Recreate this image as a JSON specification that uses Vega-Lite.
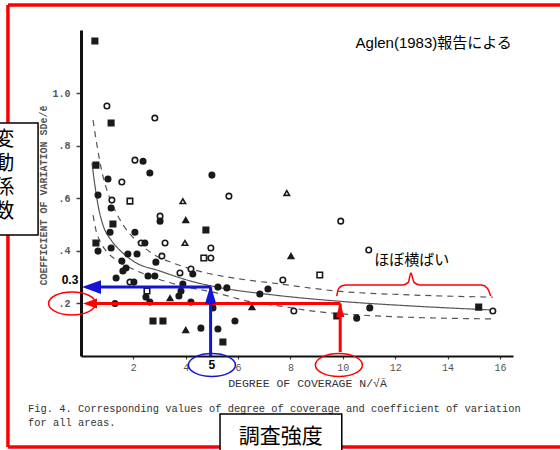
{
  "$schema": "https://vega.github.io/schema/vega-lite/v6.json",
  "width": 432,
  "height": 326,
  "autosize": {"type": "none"},
  "padding": {"left": 81, "top": 30, "right": 47, "bottom": 94},
  "background": "white",
  "config": {"view": {"stroke": null}, "font": "Liberation Sans"},
  "resolve": {"scale": {"shape": "independent", "size": "independent", "fill": "independent", "strokeDash": "independent"}},
  "encoding": {
    "x": {"field": "x", "type": "quantitative",
      "scale": {"domain": [0, 16.5], "nice": false, "zero": false},
      "axis": {"title": "DEGREE OF COVERAGE  N/√Ā", "values": [2, 4, 6, 8, 10, 12, 14, 16], "grid": false,
        "domainColor": "#111", "domainWidth": 2, "tickColor": "#444", "tickSize": 3, "tickWidth": 1.2,
        "labelFont": "Liberation Mono", "labelFontSize": 10, "labelColor": "#555", "labelPadding": 3,
        "titleFont": "Liberation Mono", "titleFontSize": 11.5, "titleFontWeight": "normal", "titleColor": "#333",
        "titleX": 226, "titleY": 27, "titleBaseline": "middle", "titleAlign": "center"}},
    "y": {"field": "y", "type": "quantitative",
      "scale": {"domain": [0, 1.24], "nice": false, "zero": false},
      "axis": {"title": "COEFFICIENT OF VARIATION  SDe/ē", "values": [0.2, 0.4, 0.6, 0.8, 1.0], "grid": false,
        "labelExpr": "datum.value >= 1 ? '1.0' : slice(format(datum.value, '.1f'), 1)",
        "domainColor": "#111", "domainWidth": 3, "tickColor": "#444", "tickSize": 5, "tickWidth": 1.5,
        "labelFont": "Liberation Mono", "labelFontSize": 10, "labelFontWeight": "bold", "labelColor": "#555", "labelPadding": 6,
        "titleFont": "Liberation Mono", "titleFontSize": 10, "titleFontWeight": "bold", "titleColor": "#555",
        "titleX": -38, "titleY": 165, "titleAngle": -90, "titleAlign": "center", "titleBaseline": "middle"}}
  },
  "datasets": {
    "pts": [
      {"x": 0.53, "y": 1.198, "m": "fs"}, {"x": 0.99, "y": 0.951, "m": "oc"}, {"x": 1.15, "y": 0.886, "m": "fs"},
      {"x": 2.82, "y": 0.905, "m": "oc"}, {"x": 2.06, "y": 0.745, "m": "oc"}, {"x": 2.37, "y": 0.741, "m": "fc"},
      {"x": 2.63, "y": 0.696, "m": "fc"}, {"x": 5.0, "y": 0.688, "m": "fc"}, {"x": 0.57, "y": 0.726, "m": "fs"},
      {"x": 1.03, "y": 0.673, "m": "fc"}, {"x": 1.56, "y": 0.662, "m": "oc"}, {"x": 5.65, "y": 0.608, "m": "oc"},
      {"x": 0.65, "y": 0.612, "m": "fc"}, {"x": 1.18, "y": 0.593, "m": "oc"}, {"x": 1.87, "y": 0.589, "m": "os"},
      {"x": 3.89, "y": 0.589, "m": "ot"}, {"x": 1.15, "y": 0.563, "m": "fc"}, {"x": 4.0, "y": 0.517, "m": "ft"},
      {"x": 3.02, "y": 0.532, "m": "oc"}, {"x": 3.02, "y": 0.513, "m": "fc"}, {"x": 1.22, "y": 0.502, "m": "fs"},
      {"x": 7.86, "y": 0.62, "m": "ot"}, {"x": 9.92, "y": 0.513, "m": "oc"}, {"x": 10.99, "y": 0.403, "m": "oc"},
      {"x": 8.02, "y": 0.38, "m": "ft"}, {"x": 9.12, "y": 0.308, "m": "os"}, {"x": 7.71, "y": 0.289, "m": "oc"},
      {"x": 7.14, "y": 0.255, "m": "fc"}, {"x": 6.83, "y": 0.236, "m": "fc"}, {"x": 8.13, "y": 0.171, "m": "oc"},
      {"x": 9.77, "y": 0.152, "m": "fs"}, {"x": 10.53, "y": 0.144, "m": "fc"}, {"x": 11.03, "y": 0.183, "m": "fc"},
      {"x": 15.19, "y": 0.186, "m": "fs"}, {"x": 15.73, "y": 0.171, "m": "oc"}, {"x": 4.77, "y": 0.479, "m": "fs"},
      {"x": 3.21, "y": 0.43, "m": "oc"}, {"x": 3.97, "y": 0.43, "m": "ot"}, {"x": 4.96, "y": 0.411, "m": "oc"},
      {"x": 1.11, "y": 0.471, "m": "fc"}, {"x": 2.06, "y": 0.471, "m": "fc"}, {"x": 0.57, "y": 0.43, "m": "fs"},
      {"x": 1.15, "y": 0.411, "m": "fc"}, {"x": 2.3, "y": 0.43, "m": "oc"}, {"x": 2.44, "y": 0.43, "m": "fc"},
      {"x": 0.65, "y": 0.399, "m": "fc"}, {"x": 1.56, "y": 0.361, "m": "fc"}, {"x": 1.79, "y": 0.388, "m": "fc"},
      {"x": 2.14, "y": 0.388, "m": "fc"}, {"x": 2.86, "y": 0.357, "m": "fc"}, {"x": 3.09, "y": 0.38, "m": "oc"},
      {"x": 1.72, "y": 0.335, "m": "fc"}, {"x": 1.6, "y": 0.323, "m": "fc"}, {"x": 2.56, "y": 0.304, "m": "fc"},
      {"x": 2.82, "y": 0.304, "m": "fc"}, {"x": 3.78, "y": 0.316, "m": "oc"}, {"x": 4.2, "y": 0.331, "m": "oc"},
      {"x": 4.27, "y": 0.312, "m": "fc"}, {"x": 4.69, "y": 0.373, "m": "os"}, {"x": 4.96, "y": 0.373, "m": "oc"},
      {"x": 1.34, "y": 0.297, "m": "fc"}, {"x": 1.87, "y": 0.281, "m": "oc"}, {"x": 2.02, "y": 0.281, "m": "fc"},
      {"x": 2.52, "y": 0.247, "m": "os"}, {"x": 2.48, "y": 0.224, "m": "fc"}, {"x": 2.63, "y": 0.205, "m": "fc"},
      {"x": 3.4, "y": 0.22, "m": "ft"}, {"x": 3.89, "y": 0.274, "m": "fc"}, {"x": 3.82, "y": 0.247, "m": "fc"},
      {"x": 3.74, "y": 0.228, "m": "fc"}, {"x": 4.2, "y": 0.205, "m": "fc"}, {"x": 1.3, "y": 0.2, "m": "fc"},
      {"x": 5.23, "y": 0.262, "m": "fc"}, {"x": 5.57, "y": 0.259, "m": "fc"}, {"x": 5.04, "y": 0.183, "m": "fc"},
      {"x": 5.88, "y": 0.133, "m": "fc"}, {"x": 2.75, "y": 0.133, "m": "fs"}, {"x": 3.13, "y": 0.133, "m": "fs"},
      {"x": 4.0, "y": 0.099, "m": "ft"}, {"x": 4.58, "y": 0.106, "m": "fc"}, {"x": 5.23, "y": 0.103, "m": "fc"},
      {"x": 5.42, "y": 0.053, "m": "fs"}, {"x": 6.53, "y": 0.186, "m": "ft"}
    ],
    "curves": [
      {"c": "upper", "x": 0.46, "y": 0.897}, {"c": "upper", "x": 0.61, "y": 0.802}, {"c": "upper", "x": 0.76, "y": 0.719},
      {"c": "upper", "x": 0.99, "y": 0.631}, {"c": "upper", "x": 1.26, "y": 0.563}, {"c": "upper", "x": 1.64, "y": 0.494},
      {"c": "upper", "x": 2.18, "y": 0.433}, {"c": "upper", "x": 2.75, "y": 0.388}, {"c": "upper", "x": 3.51, "y": 0.354},
      {"c": "upper", "x": 4.66, "y": 0.319}, {"c": "upper", "x": 5.8, "y": 0.297}, {"c": "upper", "x": 7.6, "y": 0.274},
      {"c": "upper", "x": 9.77, "y": 0.247}, {"c": "upper", "x": 12.67, "y": 0.232}, {"c": "upper", "x": 15.73, "y": 0.224},
      {"c": "mid", "x": 0.42, "y": 0.734}, {"c": "mid", "x": 0.53, "y": 0.65}, {"c": "mid", "x": 0.65, "y": 0.574},
      {"c": "mid", "x": 0.84, "y": 0.498}, {"c": "mid", "x": 1.15, "y": 0.441}, {"c": "mid", "x": 1.56, "y": 0.395},
      {"c": "mid", "x": 2.06, "y": 0.357}, {"c": "mid", "x": 3.02, "y": 0.323}, {"c": "mid", "x": 4.05, "y": 0.289},
      {"c": "mid", "x": 5.19, "y": 0.262}, {"c": "mid", "x": 7.02, "y": 0.236}, {"c": "mid", "x": 9.77, "y": 0.209},
      {"c": "mid", "x": 12.67, "y": 0.19}, {"c": "mid", "x": 15.73, "y": 0.175},
      {"c": "lower", "x": 0.46, "y": 0.536}, {"c": "lower", "x": 0.57, "y": 0.479}, {"c": "lower", "x": 0.76, "y": 0.43},
      {"c": "lower", "x": 1.03, "y": 0.392}, {"c": "lower", "x": 1.49, "y": 0.357}, {"c": "lower", "x": 2.06, "y": 0.327},
      {"c": "lower", "x": 2.63, "y": 0.304}, {"c": "lower", "x": 4.05, "y": 0.262}, {"c": "lower", "x": 5.04, "y": 0.243},
      {"c": "lower", "x": 6.45, "y": 0.207}, {"c": "lower", "x": 7.6, "y": 0.19}, {"c": "lower", "x": 8.85, "y": 0.171},
      {"c": "lower", "x": 11.41, "y": 0.152}, {"c": "lower", "x": 15.73, "y": 0.141}
    ],
    "frame": [
      {"x": -2.79, "x2": 18.3, "y": 1.335, "y2": 1.335},
      {"x": -2.79, "x2": -2.79, "y": 1.335, "y2": -0.346},
      {"x": -2.79, "x2": 18.3, "y": -0.346, "y2": -0.346}
    ],
    "rules": [
      {"col": "red", "x": 0.45, "x2": 9.9, "y": 0.2, "y2": 0.2},
      {"col": "red", "x": 9.9, "x2": 9.9, "y": 0.015, "y2": 0.2},
      {"col": "blue", "x": 0.45, "x2": 4.95, "y": 0.262, "y2": 0.262},
      {"col": "blue", "x": 4.95, "x2": 4.95, "y": 0.0, "y2": 0.262}
    ],
    "heads": [
      {"col": "red", "dir": "left", "x": 0.344, "y": 0.2},
      {"col": "red", "dir": "up", "x": 9.9, "y": 0.175},
      {"col": "blue", "dir": "left", "x": 0.4, "y": 0.262},
      {"col": "blue", "dir": "up", "x": 4.95, "y": 0.234}
    ],
    "ovals": [
      {"col": "red", "x": -0.34, "y": 0.2},
      {"col": "red", "x": 9.85, "y": -0.034},
      {"col": "blue", "x": 5.0, "y": -0.034}
    ],
    "brace": [
      {"i": 0, "x": 9.77, "y": 0.228}, {"i": 1, "x": 9.82, "y": 0.252}, {"i": 2, "x": 9.95, "y": 0.266},
      {"i": 3, "x": 10.15, "y": 0.27}, {"i": 4, "x": 12.29, "y": 0.27}, {"i": 5, "x": 12.5, "y": 0.28},
      {"i": 6, "x": 12.6, "y": 0.316}, {"i": 7, "x": 12.72, "y": 0.28}, {"i": 8, "x": 12.94, "y": 0.27},
      {"i": 9, "x": 15.3, "y": 0.27}, {"i": 10, "x": 15.52, "y": 0.258}, {"i": 11, "x": 15.65, "y": 0.228}
    ]
  },
  "layer": [
    {
      "data": {"name": "frame"},
      "mark": {"type": "rule", "color": "#ff0000", "strokeWidth": 3.5},
      "encoding": {"x2": {"field": "x2"}, "y2": {"field": "y2"}}
    },
    {
      "data": {"name": "curves"},
      "mark": {"type": "line", "interpolate": "monotone", "color": "#555", "strokeWidth": 1.2},
      "encoding": {
        "detail": {"field": "c", "type": "nominal"},
        "strokeDash": {"field": "c", "type": "nominal", "scale": {"domain": ["upper", "mid", "lower"], "range": [[6, 5], [1, 0], [6, 5]]}, "legend": null}
      }
    },
    {
      "data": {"name": "pts"},
      "mark": {"type": "point", "stroke": "#1a1a1a", "strokeWidth": 1.6, "size": 30, "opacity": 1},
      "encoding": {
        "shape": {"field": "m", "type": "nominal", "scale": {"domain": ["fc", "oc", "fs", "os", "ft", "ot"], "range": ["circle", "circle", "square", "square", "triangle-up", "triangle-up"]}, "legend": null},
        "fill": {"field": "m", "type": "nominal", "scale": {"domain": ["fc", "oc", "fs", "os", "ft", "ot"], "range": ["#1a1a1a", "#ffffff", "#1a1a1a", "#ffffff", "#1a1a1a", "#ffffff"]}, "legend": null}
      }
    },
    {
      "data": {"name": "rules"},
      "mark": {"type": "rule", "strokeWidth": 3},
      "encoding": {
        "x2": {"field": "x2"}, "y2": {"field": "y2"},
        "color": {"field": "col", "type": "nominal", "scale": {"domain": ["red", "blue"], "range": ["#ff0000", "#1414d6"]}, "legend": null}
      }
    },
    {
      "data": {"name": "heads"},
      "mark": {"type": "point", "filled": true, "opacity": 1},
      "encoding": {
        "shape": {"field": "dir", "type": "nominal", "scale": {"domain": ["left", "up"], "range": ["M -1 0 L 1 -0.72 L 1 0.72 Z", "M 0 -1 L -0.6 1 L 0.6 1 Z"]}, "legend": null},
        "size": {"field": "col", "type": "nominal", "scale": {"domain": ["red", "blue"], "range": [196, 361]}, "legend": null},
        "color": {"field": "col", "type": "nominal", "scale": {"domain": ["red", "blue"], "range": ["#ff0000", "#1414d6"]}, "legend": null}
      }
    },
    {
      "data": {"name": "ovals"},
      "mark": {"type": "point", "filled": false, "opacity": 1, "strokeWidth": 1.5, "size": 2209,
        "shape": "M -1 0 C -1 -0.27 -0.55 -0.49 0 -0.49 C 0.55 -0.49 1 -0.27 1 0 C 1 0.27 0.55 0.49 0 0.49 C -0.55 0.49 -1 0.27 -1 0 Z"},
      "encoding": {
        "color": {"field": "col", "type": "nominal", "scale": {"domain": ["red", "blue"], "range": ["#ff0000", "#1414d6"]}, "legend": null}
      }
    },
    {
      "data": {"name": "brace"},
      "mark": {"type": "line", "interpolate": "monotone", "color": "#ff0000", "strokeWidth": 1.5},
      "encoding": {"order": {"field": "i", "type": "quantitative"}}
    },
    {
      "data": {"values": [{"x": -0.42, "y": 0.289, "t": "0.3"}, {"x": 5.0, "y": -0.036, "t": "5"}]},
      "mark": {"type": "text", "fontSize": 12, "fontWeight": "bold", "color": "#000", "align": "center", "baseline": "middle", "font": "Liberation Sans"},
      "encoding": {"text": {"field": "t"}}
    },
    {
      "data": {"values": [{"x": 13.47, "y": 1.19, "t": "Aglen(1983)報告による"}, {"x": 12.63, "y": 0.365, "t": "ほぼ横ばい"}]},
      "mark": {"type": "text", "fontSize": 15, "color": "#000", "align": "center", "baseline": "middle", "font": "Liberation Sans, Noto Sans CJK JP"},
      "encoding": {"text": {"field": "t"}}
    },
    {
      "data": {"values": [
        {"x": -2.02, "y": -0.2015, "t": "Fig. 4. Corresponding values of degree of coverage and coefficient of variation"},
        {"x": -2.02, "y": -0.2548, "t": "for all areas."}]},
      "mark": {"type": "text", "fontSize": 10.4, "color": "#333", "align": "left", "baseline": "middle", "font": "Liberation Mono"},
      "encoding": {"text": {"field": "t"}}
    },
    {
      "data": {"values": [
        {"x": -3.3, "x2": -1.64, "y": 0.886, "y2": 0.46},
        {"x": 5.31, "x2": 9.96, "y": -0.2205, "y2": -0.38}]},
      "mark": {"type": "rect", "fill": "#ffffff", "stroke": "#000", "strokeWidth": 1.5},
      "encoding": {"x2": {"field": "x2"}, "y2": {"field": "y2"}}
    },
    {
      "data": {"values": [{"x": -2.93, "y": 0.821, "t": "変\n動\n係\n数"}]},
      "mark": {"type": "text", "fontSize": 20, "lineHeight": 24, "lineBreak": "\n", "color": "#000", "align": "center", "baseline": "middle", "font": "Noto Sans CJK JP"},
      "encoding": {"text": {"field": "t"}}
    },
    {
      "data": {"values": [{"x": 7.63, "y": -0.308, "t": "調査強度"}]},
      "mark": {"type": "text", "fontSize": 21, "color": "#000", "align": "center", "baseline": "middle", "font": "Noto Sans CJK JP"},
      "encoding": {"text": {"field": "t"}}
    }
  ]
}
